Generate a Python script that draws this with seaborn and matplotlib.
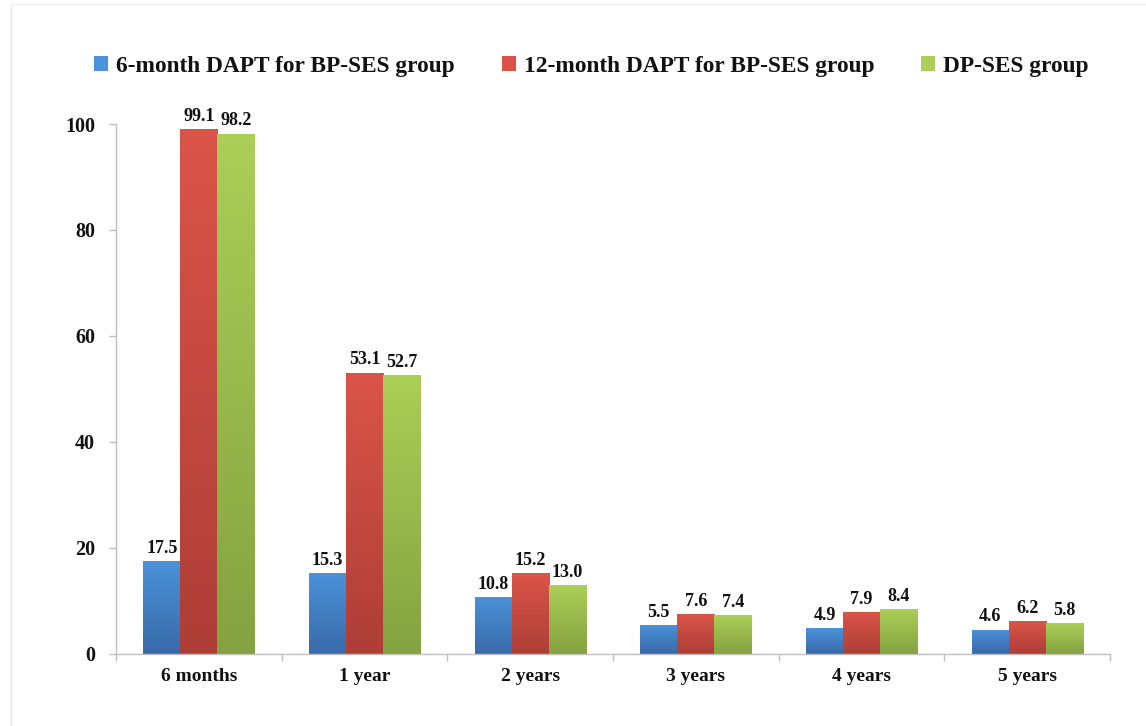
import numpy as np
import pandas as pd
import matplotlib
matplotlib.use("Agg")
import matplotlib.pyplot as plt
from matplotlib.colors import LinearSegmentedColormap
from matplotlib.lines import Line2D
import seaborn as sns

# Follow-up time points and the three treatment groups
periods = ["6 months", "1 year", "2 years", "3 years", "4 years", "5 years"]
groups = ["6-month DAPT for BP-SES group", "12-month DAPT for BP-SES group", "DP-SES group"]
dapt6_bpses = [17.5, 15.3, 10.8, 5.5, 4.9, 4.6]
dapt12_bpses = [99.1, 53.1, 15.2, 7.6, 7.9, 6.2]
dpses = [98.2, 52.7, 13.0, 7.4, 8.4, 5.8]
y_ticks = [0, 20, 40, 60, 80, 100]

# (top colour, bottom colour) of each group's vertical gradient
shades = [("#4b92da", "#386aa8"), ("#db5449", "#ad3e36"), ("#abcf57", "#84a241")]

df = pd.DataFrame({
    "period": periods * 3,
    "group": [groups[0]] * 6 + [groups[1]] * 6 + [groups[2]] * 6,
    "value": dapt6_bpses + dapt12_bpses + dpses,
})

sns.set_theme(style="white")
plt.rcParams["font.family"] = ["Liberation Serif", "DejaVu Serif"]
plt.rcParams["font.weight"] = "bold"

fig = plt.figure(figsize=(11.46, 7.26), dpi=100)
ax = fig.add_axes([0.1012, 0.0992, 0.8674, 0.730])

palette = {g: s[0] for g, s in zip(groups, shades)}
sns.barplot(data=df, x="period", y="value", hue="group", order=periods,
            hue_order=groups, palette=palette, width=0.67, ax=ax,
            saturation=1, legend=True, edgecolor="none")

ax.set_ylim(0, 100)
ax.set_xlim(-0.5, len(periods) - 0.5)

# Paint each bar with a vertical gradient clipped to its rectangle
for container, (top, bottom) in zip(ax.containers, shades):
    cmap = LinearSegmentedColormap.from_list("g", [bottom, top])
    grad = np.linspace(0, 1, 256).reshape(-1, 1)
    for bar in container:
        x0, y0 = bar.get_x(), bar.get_y()
        w, h = bar.get_width(), bar.get_height()
        im = ax.imshow(grad, cmap=cmap, origin="lower", aspect="auto",
                       extent=(x0, x0 + w, y0, y0 + h), zorder=bar.get_zorder() + 0.1)
        im.set_clip_path(bar)
    ax.bar_label(container, fmt="%.1f", padding=3, fontsize=13,
                 fontweight="bold", color="#111111")

ax.set_xlim(-0.5, len(periods) - 0.5)
ax.set_ylim(0, 100)
ax.set_aspect("auto")

ax.set_xlabel("")
ax.set_ylabel("")
ax.set_yticks(y_ticks)
ax.set_yticklabels([str(t) for t in y_ticks], fontsize=14.5, fontweight="bold")
ax.set_xticks(range(len(periods)))
ax.set_xticklabels(periods, fontsize=14, fontweight="bold")
ax.set_xticks(np.arange(-0.5, len(periods)), minor=True)

ax.tick_params(axis="y", which="major", direction="out", length=5, width=1,
               color="#bfbfbf", pad=10, left=True, labelcolor="#111111")
ax.tick_params(axis="x", which="major", length=0, pad=10, labelcolor="#111111")
ax.tick_params(axis="x", which="minor", direction="out", length=5, width=1,
               color="#bfbfbf", bottom=True)

for side in ["top", "right"]:
    ax.spines[side].set_visible(False)
for side in ["left", "bottom"]:
    ax.spines[side].set_color("#bfbfbf")
    ax.spines[side].set_linewidth(1)
ax.grid(False)

handles, labels = ax.get_legend_handles_labels()
ax.get_legend().remove()
fig.legend(handles, labels, loc="center", bbox_to_anchor=(0.516, 0.909), ncol=3,
           frameon=False, prop={"size": 16.8, "weight": "bold"},
           handlelength=0.6, handleheight=0.6, handletextpad=0.35,
           columnspacing=2.0, labelcolor="#111111")

# Faint outer frame of the chart area
fig.add_artist(Line2D([11 / 1146, 11 / 1146], [0, 1 - 4 / 726],
                      transform=fig.transFigure, color="#e8e8e8", lw=1))
fig.add_artist(Line2D([11 / 1146, 1], [1 - 4 / 726, 1 - 4 / 726],
                      transform=fig.transFigure, color="#eeeeee", lw=1))

fig.savefig("out.png", dpi=100)
